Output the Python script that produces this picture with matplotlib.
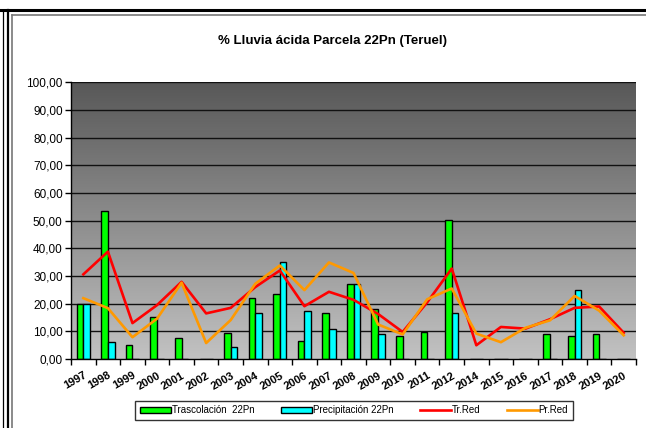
import matplotlib.pyplot as plt
import numpy as np
from matplotlib.lines import Line2D
from matplotlib.patches import Patch
from matplotlib.colors import LinearSegmentedColormap

plt.rcParams['font.family'] = ['Liberation Sans', 'DejaVu Sans']

years = ['1997', '1998', '1999', '2000', '2001', '2002', '2003', '2004', '2005',
         '2006', '2007', '2008', '2009', '2010', '2011', '2012', '2014', '2015',
         '2016', '2017', '2018', '2019', '2020']
trascolacion = [20.0, 53.3, 5.0, 15.3, 7.6, 0, 9.4, 22.2, 23.4, 6.5, 16.5, 27.2,
                18.0, 8.3, 9.8, 50.2, 0, 0, 0, 8.9, 8.3, 8.9, 0]
precipitacion = [20.0, 6.0, 0, 0, 0, 0, 4.4, 16.5, 35.2, 17.5, 10.9, 27.2,
                 8.9, 0, 0, 16.5, 0, 0, 0, 0, 24.8, 0, 0]
tr_red = [30.6, 38.8, 13.0, 19.5, 27.9, 16.5, 18.5, 26.0, 32.0, 19.1, 24.3, 21.4,
          16.3, 9.8, 20.5, 32.7, 5.0, 11.6, 11.0, 14.4, 18.5, 19.0, 9.5]
pr_red = [22.0, 18.4, 7.9, 14.6, 27.6, 5.8, 14.1, 27.2, 33.8, 24.9, 34.9, 31.1,
          12.5, 8.9, 21.6, 25.5, 9.2, 6.1, 11.3, 14.0, 22.8, 17.5, 8.6]
yticks = np.arange(0, 101, 10)

fig = plt.figure(figsize=(6.46, 4.28), dpi=100)
ax = fig.add_axes([0.110, 0.161, 0.8745, 0.647])

x = np.arange(len(years))
n = len(years)

# gradient background
grad = np.linspace(0, 1, 256).reshape(-1, 1)
cmap = LinearSegmentedColormap.from_list('bg', ['#c2c2c2', '#585858'])
ax.imshow(grad, aspect='auto', cmap=cmap, origin='lower',
          extent=[-0.5, n - 0.5, 0, 100], zorder=0)

for v in yticks[1:]:
    ax.axhline(v, color='#111111', lw=1.0, zorder=1)

w = 0.27
ax.bar(x - w / 2, trascolacion, w, color='#00ff00', edgecolor='black', lw=1, zorder=2)
ax.bar(x + w / 2, precipitacion, w, color='#00ffff', edgecolor='black', lw=1, zorder=2)
ax.plot(x, tr_red, color='#ff0000', lw=1.9, zorder=3)
ax.plot(x, pr_red, color='#ff9900', lw=1.9, zorder=4)

ax.set_xlim(-0.5, n - 0.5)
ax.set_ylim(0, 100)
ax.set_yticks(yticks)
ax.set_yticklabels([('%.2f' % v).replace('.', ',') for v in yticks], fontsize=8.5)
ax.tick_params(axis='y', direction='out', length=4, width=1, pad=2)
ax.set_xticks(np.arange(-0.5, n, 1), minor=True)
ax.set_xticks(x)
ax.set_xticklabels(years, rotation=30, ha='right', rotation_mode='anchor',
                   fontsize=8, fontweight='bold')
ax.tick_params(axis='x', which='major', length=0, pad=8)
ax.tick_params(axis='x', which='minor', direction='out', length=4, width=1)
for s in ['top', 'right']:
    ax.spines[s].set_visible(False)
ax.spines['left'].set_linewidth(1)
ax.spines['bottom'].set_linewidth(1)
ax.spines['left'].set_zorder(5)

fig.text(0.514, 0.905, '% Lluvia ácida Parcela 22Pn (Teruel)', ha='center', va='center',
         fontsize=9.5, fontweight='bold')

handles = [Patch(facecolor='#00ff00', edgecolor='black'),
           Patch(facecolor='#00ffff', edgecolor='black'),
           Line2D([], [], color='#ff0000', lw=1.9),
           Line2D([], [], color='#ff9900', lw=1.9)]
labels = ['Trascolación  22Pn', 'Precipitación 22Pn', 'Tr.Red', 'Pr.Red']
leg = fig.legend(handles, labels, loc='center', bbox_to_anchor=(0.548, 0.041), ncol=4,
                 fontsize=7, frameon=True, fancybox=False, edgecolor='black',
                 handlelength=3.2, handleheight=0.5, handletextpad=0.1, columnspacing=2.7,
                 borderpad=0.45)
leg.get_frame().set_linewidth(1)

# frame lines around the chart
H, W = 428.0, 646.0
fig.add_artist(Line2D([0, 1], [1 - 10 / H, 1 - 10 / H], color='black', lw=2.2))
fig.add_artist(Line2D([3 / W, 3 / W], [0, 1 - 10 / H], color='black', lw=0.9))
fig.add_artist(Line2D([7.5 / W, 7.5 / W], [0, 1 - 10 / H], color='black', lw=1.6))
fig.add_artist(Line2D([11.5 / W, 11.5 / W], [0, 1 - 15 / H], color='#777777', lw=1.2))
fig.add_artist(Line2D([11.5 / W, 1], [1 - 15 / H, 1 - 15 / H], color='#777777', lw=1.2))

fig.savefig('out.png', dpi=100)
